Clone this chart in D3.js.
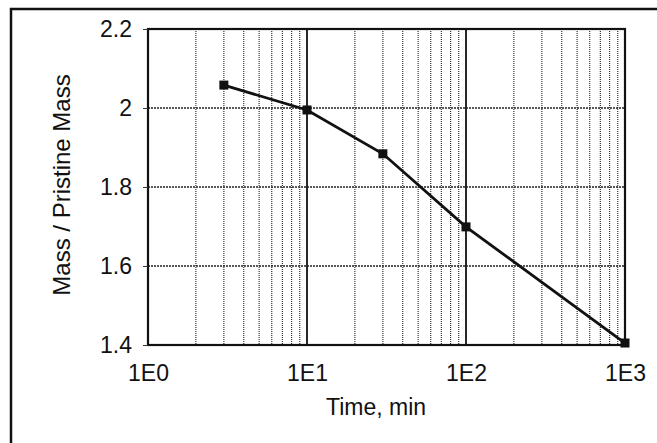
<!DOCTYPE html>
<html>
<head>
<meta charset="utf-8">
<script src="https://cdn.jsdelivr.net/npm/d3@7"></script>
<style>
  body { margin: 0; background: #fff; }
</style>
</head>
<body>
<div id="chart"></div>
<script>
const timeMin = [3, 10, 30, 100, 1000];
const massRatio = [2.058, 1.995, 1.884, 1.699, 1.405];
const xTicks = [1, 10, 100, 1000];
const yTicks = [1.4, 1.6, 1.8, 2.0, 2.2];

const width = 657, height = 443;
const margin = {left: 148, right: 32, top: 29, bottom: 98};

const svg = d3.select("#chart").append("svg")
  .attr("width", width)
  .attr("height", height)
  .style("font-family", "Arial, 'Liberation Sans', sans-serif");

// outer frame
svg.append("rect")
  .attr("x", 11).attr("y", 9)
  .attr("width", 700).attr("height", 500)
  .attr("fill", "none")
  .attr("stroke", "#111")
  .attr("stroke-width", 2.5);

const x = d3.scaleLog()
  .domain([1, 1000])
  .range([margin.left, width - margin.right]);

const y = d3.scaleLinear()
  .domain([1.4, 2.2])
  .range([height - margin.bottom, margin.top]);

// minor vertical grid
const minor = [];
for (let k = 0; k < 3; k++) {
  for (let m = 2; m <= 9; m++) minor.push(m * Math.pow(10, k));
}

svg.append("g")
  .selectAll("line")
  .data(minor)
  .join("line")
    .attr("x1", d => x(d)).attr("x2", d => x(d))
    .attr("y1", y(2.2)).attr("y2", y(1.4))
    .attr("stroke", "#333")
    .attr("stroke-width", 1.2)
    .attr("stroke-dasharray", "1,1");

// major vertical grid
svg.append("g")
  .selectAll("line")
  .data([10, 100])
  .join("line")
    .attr("x1", d => x(d)).attr("x2", d => x(d))
    .attr("y1", y(2.2)).attr("y2", y(1.4))
    .attr("stroke", "#111")
    .attr("stroke-width", 1.8);

// horizontal grid
svg.append("g")
  .selectAll("line")
  .data([1.6, 1.8, 2.0])
  .join("line")
    .attr("x1", x(1)).attr("x2", x(1000))
    .attr("y1", d => y(d)).attr("y2", d => y(d))
    .attr("stroke", "#222")
    .attr("stroke-width", 1.4)
    .attr("stroke-dasharray", "2,1");

// plot border
svg.append("rect")
  .attr("x", x(1)).attr("y", y(2.2))
  .attr("width", x(1000) - x(1))
  .attr("height", y(1.4) - y(2.2))
  .attr("fill", "none")
  .attr("stroke", "#111")
  .attr("stroke-width", 2.2);

// axes
const xAxis = svg.append("g")
  .attr("transform", `translate(0,${y(1.4)})`)
  .call(d3.axisBottom(x)
    .tickValues(xTicks)
    .tickFormat(d => "1E" + Math.round(Math.log10(d)))
    .tickSize(0)
    .tickPadding(20));
xAxis.select(".domain").remove();
xAxis.selectAll("text")
  .attr("font-size", 23)
  .attr("fill", "#111")
  .attr("font-family", "Arial, 'Liberation Sans', sans-serif");

const yAxis = svg.append("g")
  .attr("transform", `translate(${x(1)},0)`)
  .call(d3.axisLeft(y)
    .tickValues(yTicks)
    .tickFormat(d => d === 2 ? "2" : d3.format(".1f")(d))
    .tickSize(5)
    .tickPadding(11));
yAxis.select(".domain").remove();
yAxis.selectAll("line").attr("stroke", "#333");
yAxis.selectAll("text")
  .attr("font-size", 23)
  .attr("fill", "#111")
  .attr("font-family", "Arial, 'Liberation Sans', sans-serif");

// axis titles
svg.append("text")
  .attr("x", 376)
  .attr("y", 415)
  .attr("text-anchor", "middle")
  .attr("font-size", 23)
  .attr("fill", "#111")
  .text("Time, min");

svg.append("text")
  .attr("transform", `translate(70,${(y(1.4) + y(2.2)) / 2 - 2}) rotate(-90)`)
  .attr("text-anchor", "middle")
  .attr("font-size", 24)
  .attr("fill", "#111")
  .text("Mass / Pristine Mass");

// data line
const line = d3.line()
  .x((d, i) => x(timeMin[i]))
  .y(d => y(d));

svg.append("path")
  .datum(massRatio)
  .attr("d", line)
  .attr("fill", "none")
  .attr("stroke", "#111")
  .attr("stroke-width", 2.8);

svg.append("g")
  .selectAll("rect")
  .data(massRatio)
  .join("rect")
    .attr("x", (d, i) => x(timeMin[i]) - 4.5)
    .attr("y", d => y(d) - 4.5)
    .attr("width", 9)
    .attr("height", 9)
    .attr("fill", "#111");
</script>
</body>
</html>
